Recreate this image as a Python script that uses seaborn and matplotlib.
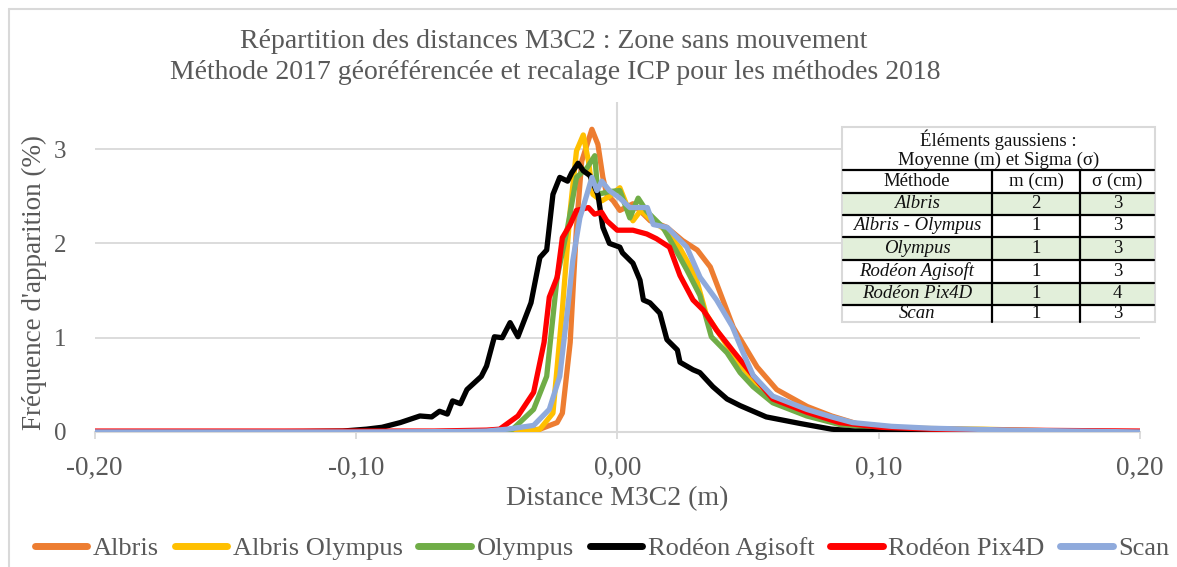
import numpy as np
import pandas as pd
import matplotlib
matplotlib.use("Agg")
import matplotlib.pyplot as plt
from matplotlib.patches import Rectangle
from matplotlib.lines import Line2D
import seaborn as sns

# ---------------- data ----------------
series_names = ["Albris", "Albris Olympus", "Olympus", "Rodéon Agisoft", "Rodéon Pix4D", "Scan"]
series_colors = ["#ED7D31", "#FFC000", "#70AD47", "#000000", "#FF0000", "#8FAADC"]

albris_x = [-0.200, -0.100, -0.050, -0.035, -0.0296, -0.023, -0.021, -0.018, -0.0156, -0.0136,
            -0.0097, -0.0074, -0.0055, -0.004, -0.0015, 0.001, 0.006, 0.0126, 0.019, 0.025,
            0.0306, 0.0356, 0.0444, 0.0535, 0.061, 0.0727, 0.082, 0.095, 0.110, 0.130, 0.160, 0.200]
albris_y = [0.0, 0.0, 0.0, 0.01, 0.03, 0.10, 0.20, 0.95, 2.17, 2.87,
            3.21, 3.05, 2.70, 2.52, 2.45, 2.35, 2.42, 2.24, 2.17, 2.03,
            1.93, 1.75, 1.11, 0.69, 0.45, 0.27, 0.17, 0.06, 0.04, 0.02, 0.01, 0.0]

albris_oly_x = [-0.200, -0.100, -0.050, -0.035, -0.0296, -0.0246, -0.021, -0.018, -0.0156, -0.013,
                -0.011, -0.0093, -0.006, -0.003, 0.001, 0.006, 0.009, 0.013, 0.018, 0.024,
                0.030, 0.034, 0.040, 0.046, 0.052, 0.058, 0.066, 0.075, 0.085, 0.095, 0.110, 0.140, 0.170, 0.200]
albris_oly_y = [0.0, 0.0, 0.0, 0.01, 0.03, 0.20, 1.30, 2.35, 2.98, 3.15,
                2.87, 2.52, 2.45, 2.50, 2.59, 2.24, 2.35, 2.25, 2.15, 1.95,
                1.65, 1.25, 1.00, 0.75, 0.55, 0.38, 0.27, 0.18, 0.10, 0.06, 0.04, 0.03, 0.01, 0.0]

olympus_x = [-0.200, -0.100, -0.060, -0.045, -0.040, -0.032, -0.027, -0.023, -0.019, -0.0156,
             -0.0116, -0.0086, -0.0074, -0.003, 0.001, 0.0048, 0.008, 0.0113, 0.0175, 0.021,
             0.0266, 0.0316, 0.036, 0.042, 0.047, 0.052, 0.0595, 0.0725, 0.085, 0.100, 0.120, 0.150, 0.200]
olympus_y = [0.0, 0.0, 0.005, 0.01, 0.03, 0.24, 0.59, 1.64, 2.17, 2.70,
             2.80, 2.93, 2.52, 2.55, 2.56, 2.27, 2.48, 2.34, 2.17, 2.00,
             1.72, 1.45, 1.01, 0.84, 0.63, 0.48, 0.31, 0.17, 0.08, 0.04, 0.02, 0.01, 0.0]

agisoft_x = [-0.200, -0.150, -0.120, -0.105, -0.096, -0.090, -0.083, -0.0755, -0.071, -0.068,
             -0.065, -0.063, -0.060, -0.0575, -0.052, -0.050, -0.047, -0.044, -0.041, -0.038,
             -0.033, -0.0296, -0.027, -0.0246, -0.022, -0.019, -0.0174, -0.015, -0.013, -0.0105,
             -0.0074, -0.0055, -0.003, 0.001, 0.002, 0.006, 0.0087, 0.010, 0.0125, 0.0163,
             0.019, 0.023, 0.024, 0.029, 0.0316, 0.0366, 0.042, 0.047, 0.057, 0.070,
             0.082, 0.091, 0.100, 0.150, 0.200]
agisoft_y = [0.0, 0.0, 0.005, 0.01, 0.03, 0.05, 0.10, 0.17, 0.16, 0.22,
             0.19, 0.33, 0.30, 0.45, 0.59, 0.70, 1.01, 1.00, 1.16, 1.01,
             1.37, 1.85, 1.93, 2.52, 2.70, 2.66, 2.75, 2.85, 2.77, 2.72,
             2.52, 2.17, 2.00, 1.96, 1.90, 1.79, 1.61, 1.40, 1.37, 1.26,
             0.98, 0.87, 0.74, 0.66, 0.63, 0.48, 0.35, 0.28, 0.16, 0.09,
             0.03, 0.01, 0.005, 0.0, 0.0]

pix4d_x = [-0.200, -0.100, -0.070, -0.050, -0.045, -0.038, -0.032, -0.028, -0.026, -0.023,
           -0.021, -0.018, -0.0156, -0.011, -0.0087, -0.006, -0.004, 0.000, 0.006, 0.0113,
           0.015, 0.020, 0.024, 0.029, 0.033, 0.038, 0.044, 0.051, 0.0595, 0.0725,
           0.085, 0.101, 0.120, 0.150, 0.200]
pix4d_y = [0.01, 0.01, 0.01, 0.02, 0.03, 0.17, 0.42, 0.95, 1.43, 1.64,
           2.06, 2.20, 2.35, 2.38, 2.31, 2.33, 2.24, 2.14, 2.14, 2.10,
           2.05, 1.96, 1.66, 1.40, 1.29, 1.08, 0.87, 0.63, 0.35, 0.21,
           0.10, 0.05, 0.03, 0.02, 0.01]

scan_x = [-0.200, -0.100, -0.060, -0.050, -0.042, -0.032, -0.026, -0.022, -0.019, -0.017,
          -0.0143, -0.0116, -0.0097, -0.0078, -0.0059, -0.003, 0.001, 0.0048, 0.0115, 0.0138,
          0.0191, 0.0266, 0.0317, 0.038, 0.044, 0.048, 0.052, 0.0595, 0.0725, 0.082,
          0.090, 0.105, 0.120, 0.150, 0.200]
scan_y = [0.0, 0.0, 0.005, 0.01, 0.03, 0.07, 0.24, 0.59, 1.30, 1.82,
          2.27, 2.52, 2.70, 2.56, 2.66, 2.56, 2.48, 2.38, 2.38, 2.20,
          2.17, 1.96, 1.64, 1.40, 1.12, 0.85, 0.60, 0.38, 0.24, 0.16,
          0.10, 0.06, 0.04, 0.02, 0.0]

x_ticks = [-0.20, -0.10, 0.00, 0.10, 0.20]
x_tick_labels = ["-0,20", "-0,10", "0,00", "0,10", "0,20"]
y_ticks = [0, 1, 2, 3]

title_lines = ["Répartition des distances M3C2 : Zone sans mouvement",
               "Méthode 2017 géoréférencée et recalage ICP pour les méthodes 2018"]
x_label = "Distance M3C2 (m)"
y_label = "Fréquence d'apparition (%)"

table_title = ["Éléments gaussiens :", "Moyenne (m) et Sigma (σ)"]
table_header = ["Méthode", "m (cm)", "σ (cm)"]
table_methods = ["Albris", "Albris - Olympus", "Olympus", "Rodéon Agisoft", "Rodéon Pix4D", "Scan"]
table_mean = [2, 1, 1, 1, 1, 1]
table_sigma = [3, 3, 3, 3, 4, 3]

# ---------------- build long-form frame ----------------
xs = [albris_x, albris_oly_x, olympus_x, agisoft_x, pix4d_x, scan_x]
ys = [albris_y, albris_oly_y, olympus_y, agisoft_y, pix4d_y, scan_y]
frames = []
for name, x, y in zip(series_names, xs, ys):
    frames.append(pd.DataFrame({"x": x, "y": y, "serie": name}))
df = pd.concat(frames, ignore_index=True)

# ---------------- figure ----------------
sns.set_theme(style="white")
plt.rcParams["font.family"] = ["Liberation Serif", "DejaVu Serif"]
GREY = "#595959"

W, H = 1177, 567
fig = plt.figure(figsize=(W / 100, H / 100), dpi=100)
fig.patch.set_facecolor("white")

def fx(px):
    return px / W

def fy(py):
    return 1 - py / H

left, right = 94.5, 1140
y0_px, ytop_px = 432, 432 - 3.5 * 94.3
ax_h_px = y0_px - ytop_px
ax = fig.add_axes([fx(left), fy(y0_px), fx(right - left), ax_h_px / H])

ax.axvline(0, color="#d9d9d9", lw=1.5, zorder=1)
sns.lineplot(data=df, x="x", y="y", hue="serie", hue_order=series_names,
             palette=dict(zip(series_names, series_colors)), estimator=None,
             sort=True, linewidth=3.8, ax=ax, zorder=3,
             solid_joinstyle="round", solid_capstyle="round")

ax.set_xlim(-0.2, 0.2)
ax.set_ylim(0, 3.5)
ax.set_xticks(x_ticks)
ax.set_xticklabels(x_tick_labels)
ax.set_yticks(y_ticks)
ax.yaxis.grid(True, color="#d9d9d9", lw=1.3)
ax.xaxis.grid(False)
ax.set_axisbelow(True)
for s in ["left", "right", "top"]:
    ax.spines[s].set_visible(False)
ax.spines["bottom"].set_color("#d9d9d9")
ax.spines["bottom"].set_linewidth(1.5)
ax.tick_params(axis="x", bottom=True, length=5, width=1.3, color="#d9d9d9",
               labelsize=19.5, labelcolor=GREY, pad=12)
ax.tick_params(axis="y", left=False, labelsize=18, labelcolor=GREY, pad=14)
ax.set_xlabel(x_label, fontsize=20, color=GREY)
ax.set_ylabel(y_label, fontsize=19.5, color=GREY)
ax.xaxis.set_label_coords(0.5, (y0_px - 486) / ax_h_px)
ax.yaxis.set_label_coords((47 - left) / (right - left), (y0_px - 283) / ax_h_px)

sns.move_legend(ax, "center", bbox_to_anchor=(fx(602), fy(548)),
                bbox_transform=fig.transFigure, ncol=6, frameon=False, title=None,
                fontsize=19, handlelength=2.0, handletextpad=0.2, columnspacing=0.6)
for t in ax.get_legend().get_texts():
    t.set_color(GREY)
for l in ax.get_legend().get_lines():
    l.set_linewidth(5)

fig.text(fx(554), fy(42), title_lines[0], ha="center", va="center", fontsize=20, color=GREY)
fig.text(fx(555), fy(73), title_lines[1], ha="center", va="center", fontsize=20, color=GREY)

# chart border (light grey)
fig.add_artist(Line2D([fx(9), fx(9)], [fy(9), 0], transform=fig.transFigure, color="#d9d9d9", lw=1.5))
fig.add_artist(Line2D([fx(9), 1], [fy(9), fy(9)], transform=fig.transFigure, color="#d9d9d9", lw=1.5))

# ---------------- table ----------------
tl, tr, tt, tb = 842, 1155, 127, 322
c1, c2 = 992, 1080
TFS = 13.5
TC = "#111111"
fig.add_artist(Rectangle((fx(tl), fy(tb)), fx(tr - tl), (tb - tt) / H, transform=fig.transFigure,
                         facecolor="white", edgecolor="#d9d9d9", lw=1.5, zorder=5))
fig.text(fx((tl + tr) / 2), fy(140), table_title[0], ha="center", va="center", fontsize=TFS, color=TC, zorder=6)
fig.text(fx((tl + tr) / 2), fy(160), table_title[1], ha="center", va="center", fontsize=TFS, color=TC, zorder=6)
row_edges = [170, 193, 215, 237, 260, 283, 305, 322]
for i in range(len(table_methods)):
    top, bot = row_edges[i + 1], row_edges[i + 2]
    if i % 2 == 0:
        fig.add_artist(Rectangle((fx(tl + 1), fy(bot)), fx(tr - tl - 2), (bot - top) / H,
                                 transform=fig.transFigure, facecolor="#E2EFDA", edgecolor="none", zorder=5.5))
for e in row_edges[:-1]:
    fig.add_artist(Line2D([fx(tl + 1), fx(tr - 1)], [fy(e), fy(e)], transform=fig.transFigure,
                          color="black", lw=1.6, zorder=6))
for c in (c1, c2):
    fig.add_artist(Line2D([fx(c), fx(c)], [fy(row_edges[0]), fy(tb)], transform=fig.transFigure,
                          color="black", lw=1.6, zorder=6))
hc = (row_edges[0] + row_edges[1]) / 2
fig.text(fx((tl + c1) / 2), fy(hc), table_header[0], ha="center", va="center", fontsize=TFS, color=TC, zorder=7)
fig.text(fx((c1 + c2) / 2), fy(hc), table_header[1], ha="center", va="center", fontsize=TFS, color=TC, zorder=7)
fig.text(fx((c2 + tr) / 2), fy(hc), table_header[2], ha="center", va="center", fontsize=TFS, color=TC, zorder=7)
for i, (m, mu, sg) in enumerate(zip(table_methods, table_mean, table_sigma)):
    yc = (row_edges[i + 1] + row_edges[i + 2]) / 2
    fig.text(fx((tl + c1) / 2), fy(yc), m, ha="center", va="center", fontsize=TFS, style="italic", color=TC, zorder=7)
    fig.text(fx((c1 + c2) / 2), fy(yc), str(mu), ha="center", va="center", fontsize=TFS, color=TC, zorder=7)
    fig.text(fx((c2 + tr) / 2), fy(yc), str(sg), ha="center", va="center", fontsize=TFS, color=TC, zorder=7)

fig.savefig("out.png", dpi=100, facecolor="white")
